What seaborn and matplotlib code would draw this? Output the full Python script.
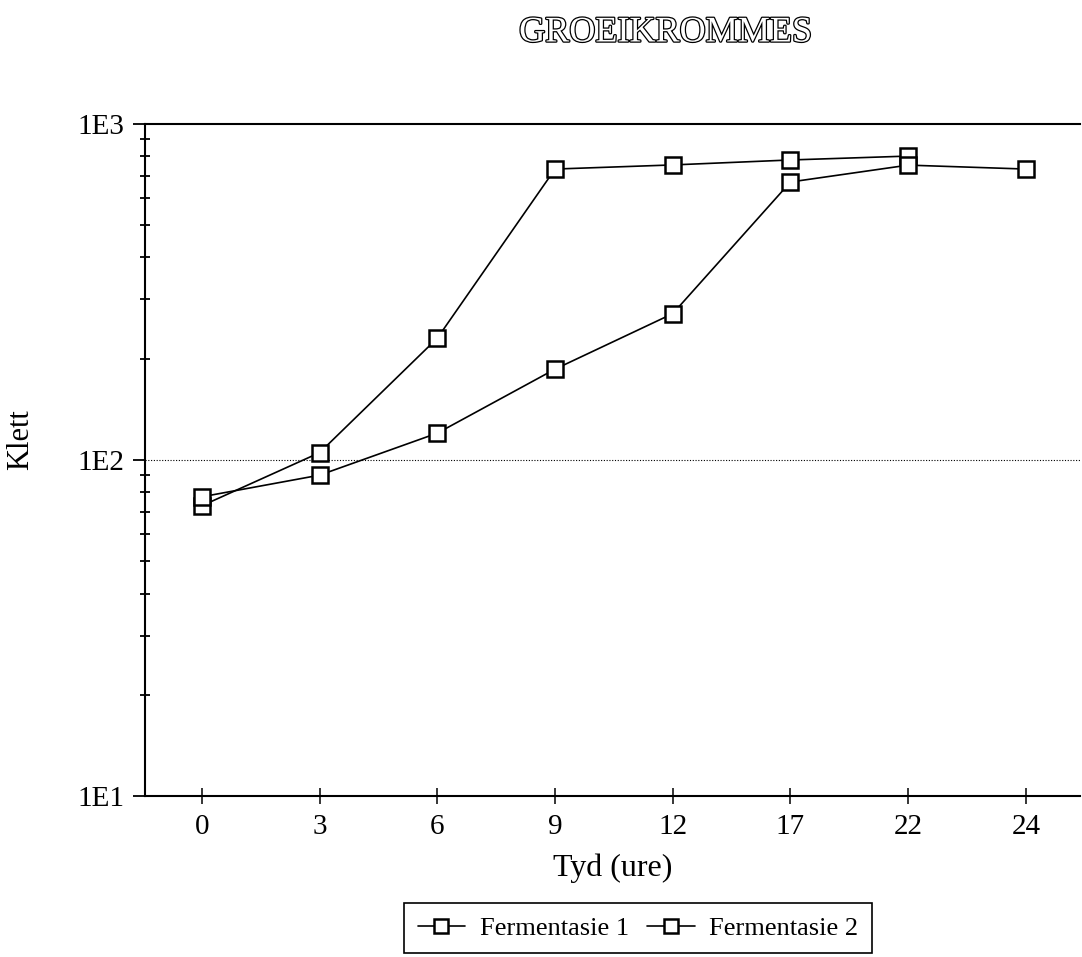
"""Groeikrommes van twee fermentasies (Klett teen tyd)."""

import matplotlib

matplotlib.use("Agg")

import matplotlib.patheffects as pe
import matplotlib.pyplot as plt
import numpy as np
import pandas as pd
import seaborn as sns
from matplotlib.ticker import FixedLocator, LogLocator, NullFormatter

# Data (afgelees van die grafiek)
tyd = ["0", "3", "6", "9", "12", "17", "22", "24"]
fermentasie_1 = [73, 105, 230, 732, 753, 779, 800, np.nan]
fermentasie_2 = [77.6, 90, 120, 186, 272, 670, 752, 732]
reekse = ["Fermentasie 1", "Fermentasie 2"]

y_ticks = [10, 100, 1000]
y_labels = ["1E1", "1E2", "1E3"]

df = pd.concat(
    [
        pd.DataFrame({"tyd": tyd, "klett": fermentasie_1, "reeks": reekse[0]}),
        pd.DataFrame({"tyd": tyd, "klett": fermentasie_2, "reeks": reekse[1]}),
    ],
    ignore_index=True,
).dropna()

sns.set_style("ticks")
plt.rcParams["font.family"] = ["Liberation Serif", "DejaVu Serif"]
plt.rcParams["text.color"] = "black"
plt.rcParams["axes.labelcolor"] = "black"
plt.rcParams["xtick.color"] = "black"
plt.rcParams["ytick.color"] = "black"

W, H = 1082, 957
fig = plt.figure(figsize=(W / 100, H / 100), dpi=100)
ax = fig.add_axes([145 / W, 1 - 796 / H, 935 / W, 672.5 / H])

sns.pointplot(
    data=df,
    x="tyd",
    y="klett",
    hue="reeks",
    order=tyd,
    hue_order=reekse,
    palette=["black", "black"],
    markers=["s", "s"],
    linestyles=["-", "-"],
    errorbar=None,
    legend=False,
    markersize=11,
    linewidth=1.2,
    markeredgewidth=1.8,
    markerfacecolor="white",
    ax=ax,
)
handles = list(ax.lines[:2])

ax.set_yscale("log")
ax.set_ylim(10, 1000)
ax.set_xlim(-0.484, 7.46)

ax.yaxis.set_major_locator(FixedLocator(y_ticks))
ax.set_yticklabels(y_labels)
ax.yaxis.set_minor_locator(LogLocator(base=10, subs=np.arange(2, 10)))
ax.yaxis.set_minor_formatter(NullFormatter())

ax.tick_params(axis="y", which="major", direction="out", length=9, width=1.3,
               labelsize=21, pad=6)
ax.tick_params(axis="y", which="minor", direction="inout", length=7, width=1.3)
ax.tick_params(axis="x", which="major", direction="inout", length=12, width=1.1,
               labelsize=21, pad=7)

# stippellyn by 1E2
ax.axhline(100, color="black", linewidth=0.8, linestyle=(0, (1, 1.5)), zorder=1)

for side in ["left", "bottom", "top"]:
    ax.spines[side].set_visible(True)
    ax.spines[side].set_linewidth(1.5)
    ax.spines[side].set_color("black")
ax.spines["right"].set_visible(False)

ax.set_xlabel("Tyd (ure)", fontsize=23)
ax.set_ylabel("Klett", fontsize=22)
ax.xaxis.set_label_coords(0.5, -0.085)
ax.yaxis.set_label_coords(-0.118, 0.53)

fig.text(0.615, 1 - 33 / H, "GROEIKROMMES", ha="center", va="center",
         fontsize=26, color="white",
         path_effects=[pe.withStroke(linewidth=1.8, foreground="black")])

leg = fig.legend(
    handles,
    reekse,
    loc="center",
    bbox_to_anchor=(638 / W, 1 - 928 / H),
    ncol=2,
    frameon=True,
    fancybox=False,
    edgecolor="black",
    fontsize=19,
    handlelength=1.8,
    markerscale=0.9,
    columnspacing=0.7,
    handletextpad=0.55,
    borderpad=0.5,
    borderaxespad=0,
)
leg.get_frame().set_linewidth(1.2)
leg.get_frame().set_alpha(1)

fig.savefig("out.png", dpi=100)
